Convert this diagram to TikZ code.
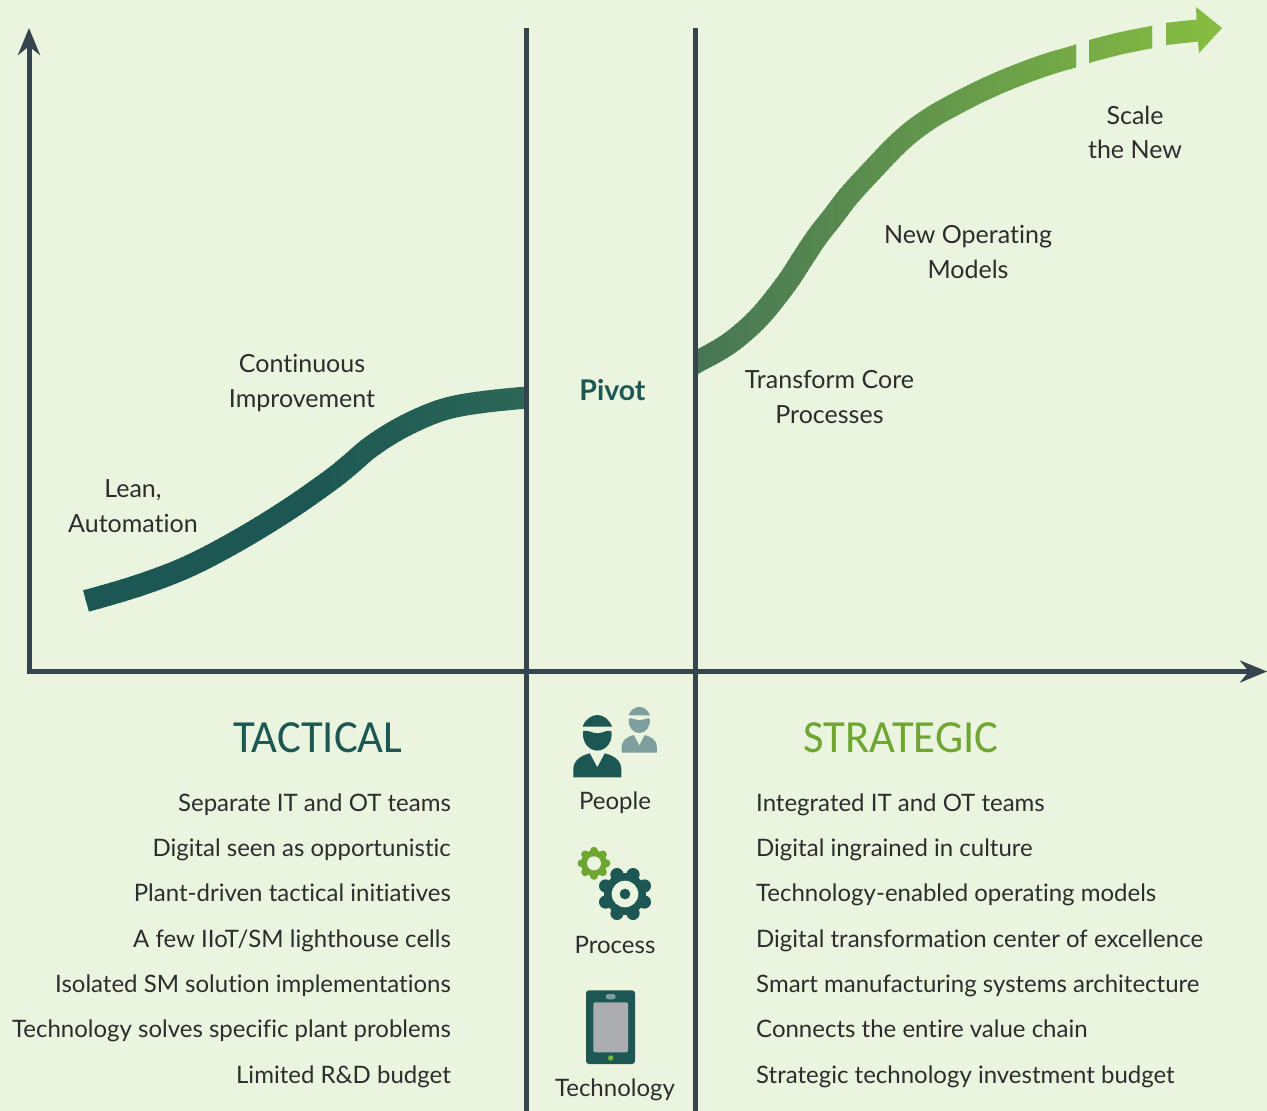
\documentclass[tikz,border=0pt]{standalone}
\usepackage{fontspec}
\setmainfont[Ligatures=NoCommon]{Lato}
\newfontfamily\titlefont{Carlito}
\usetikzlibrary{arrows.meta}
\definecolor{bgc}{HTML}{EAF4DF}
\definecolor{axisc}{HTML}{36444D}
\definecolor{tealc}{HTML}{1C5753}
\definecolor{tealend}{HTML}{2C6757}
\definecolor{greenstart}{HTML}{467655}
\definecolor{greenend}{HTML}{87BE40}
\definecolor{titlegreen}{HTML}{6FA632}
\definecolor{textc}{HTML}{2E2D2D}
\definecolor{fadec}{HTML}{7F9F9E}
\definecolor{screenc}{HTML}{ABADB0}
\definecolor{dotc}{HTML}{7AB53B}
\newcommand\leftcurve{plot[smooth,tension=.6] coordinates {(86,601) (137,586) (187,567) (237,541) (287,510.5) (330,480.5) (350,464.5) (370,447.5) (397,430) (427,415.5) (453,407) (487,401.5) (527,397.5)}}
\newcommand\rightcurve{plot[smooth,tension=.6] coordinates {(688,367) (695,363) (723,347.5) (743,332.5) (763,313) (787,282.5) (803,258) (817,237) (833,216.5) (850,194.5) (880,162) (897,144.5) (913,130.5) (930,118.5) (947,108.5) (980,91.5) (1013,77) (1047,64.5) (1076,56) (1089,51.5) (1120,43.5) (1152,37) (1166,34) (1198,30.5)}}
\tikzset{
  axisline/.style={draw=axisc,line width=5pt},
  axisarrow/.style={axisline,-{Stealth[length=27pt,width=22pt]}},
  item/.style={font=\fontsize{24}{30}\selectfont,text=textc,inner sep=0pt},
  leftitem/.style={item,anchor=base east},
  rightitem/.style={item,anchor=base west},
  iconlabel/.style={item,anchor=base},
  curvelabel/.style={font=\fontsize{25}{35}\selectfont,text=textc,align=center,inner sep=0pt},
  titletext/.style={font=\titlefont\fontsize{46}{50}\selectfont,inner sep=0pt,anchor=base,xscale=.97},
  ribbon/.style={line width=22pt},
  person/.pic={
    \fill[pic actions] (-14.7,-50.7) .. controls (-12,-58) and (-6,-62.3) .. (0,-62.3) .. controls (6,-62.3) and (12,-58) .. (14.7,-50.7) -- cycle;
    \fill[pic actions] (-14,-46.5) .. controls (-9,-47.5) and (-5,-44) .. (0,-44) .. controls (5,-44) and (9,-47.5) .. (14,-46.5) .. controls (16,-36) and (9,-26.7) .. (0,-26.7) .. controls (-9,-26.7) and (-16,-36) .. (-14,-46.5) -- cycle;
    \fill[pic actions] (-24,0) -- (-24,-8) .. controls (-24,-17) and (-16,-22) .. (-7.5,-24) -- (0,-10) -- (7.5,-24) .. controls (16,-22) and (24,-17) .. (24,-8) -- (24,0) -- cycle;
  }
}
\begin{document}
\begin{tikzpicture}[x=1pt,y=-1pt]
\useasboundingbox (0,0) rectangle (1267,1111);
\fill[bgc] (0,0) rectangle (1267,1111);

% left curve, coloured in vertical bands
\foreach \bx in {75,80,...,525} {
  \pgfmathsetmacro\bt{max(0,(\bx-305)/221*100)}
  \colorlet{bandc}{tealend!\bt!tealc}
  \begin{scope}
    \clip (\bx,380) rectangle (\bx+6,620);
    \draw[bandc,ribbon] \leftcurve;
  \end{scope}
}

% right curve, coloured in vertical bands, broken in three
\begin{scope}
\clip (695,0) rectangle (1076,400) (1089,0) rectangle (1152,400) (1166,0) rectangle (1223,400);
\foreach \bx in {695,699,...,1219} {
  \pgfmathsetmacro\bt{(\bx-695)/527*100}
  \colorlet{bandc}{greenend!\bt!greenstart}
  \begin{scope}
    \clip (\bx,0) rectangle (\bx+5,400);
    \draw[bandc,ribbon] \rightcurve;
    \fill[bandc] (1196,7) -- (1222,28) -- (1199,53) -- (1197,30) -- cycle;
  \end{scope}
}
\end{scope}

% axes
\coordinate (yorigin) at (29,673.5);
\coordinate (ytip) at (29,28);
\coordinate (xorigin) at (26.5,671.5);
\coordinate (xtip) at (1267,671.5);
\coordinate (pivotAtop) at (526.5,28);
\coordinate (pivotAbot) at (526.5,1111);
\coordinate (pivotBtop) at (695.5,28);
\coordinate (pivotBbot) at (695.5,1111);
\draw[axisline] (pivotAtop) -- (pivotAbot);
\draw[axisline] (pivotBtop) -- (pivotBbot);
\draw[axisarrow] (yorigin) -- (ytip);
\draw[axisarrow] (xorigin) -- (xtip);

% curve labels
\node[curvelabel] (lean) at (133,506) {Lean,\\Automation};
\node[curvelabel] (conti) at (302,383) {Continuous\\Improvement};
\node[curvelabel] (trans) at (829.5,397) {Transform Core\\Processes};
\node[curvelabel] (newop) at (968,252) {New Operating\\Models};
\node[curvelabel] (scale) at (1135,132) {Scale\\[-1pt]the New};
\node[inner sep=0pt,anchor=base,text=tealc,font=\fontsize{28.5}{30}\selectfont\bfseries] (pivot) at (612.5,400.5) {Pivot};

% titles
\node[titletext,text=tealc] (tactical) at (318,752) {TACTICAL};
\node[titletext,text=titlegreen] (strategic) at (901,752) {STRATEGIC};

% left list
\node[leftitem] (l1) at (451,811) {Separate IT and OT teams};
\node[leftitem] (l2) at (451,856) {Digital seen as opportunistic};
\node[leftitem] (l3) at (451,901) {Plant-driven tactical initiatives};
\node[leftitem] (l4) at (451,947) {A few IIoT/SM lighthouse cells};
\node[leftitem] (l5) at (451,992) {Isolated SM solution implementations};
\node[leftitem] (l6) at (451,1037) {Technology solves specific plant problems};
\node[leftitem] (l7) at (451,1083) {Limited R\&D budget};

% right list
\node[rightitem] (r1) at (756,811) {Integrated IT and OT teams};
\node[rightitem] (r2) at (756,856) {Digital ingrained in culture};
\node[rightitem] (r3) at (756,901) {Technology-enabled operating models};
\node[rightitem] (r4) at (756,947) {Digital transformation center of excellence};
\node[rightitem] (r5) at (756,992) {Smart manufacturing systems architecture};
\node[rightitem] (r6) at (756,1037) {Connects the entire value chain};
\node[rightitem] (r7) at (756,1083) {Strategic technology investment budget};

% people icon
\pic[fill=fadec,scale=.736] at (639.3,752.7) {person};
\pic[fill=tealc] at (597.3,777.3) {person};
\node[iconlabel] (people) at (615,809.5) {People};

% gears
\begin{scope}[shift={(594,863.3)}]
  \fill[titlegreen] (0,0) circle (13);
  \foreach \a in {0,45,...,315} \fill[titlegreen] (\a:12.5) circle (4);
  \fill[bgc] (0,0) circle (7);
\end{scope}
\begin{scope}[shift={(625,894)}]
  \fill[tealc] (0,0) circle (21);
  \foreach \a in {22.5,67.5,...,337.5} \fill[tealc] (\a:21) circle (6.6);
  \fill[bgc] (0,0) circle (13.3);
  \fill[tealc] (0,0) circle (5.3);
\end{scope}
\node[iconlabel] (process) at (615,953.5) {Process};

% phone
\fill[tealc,rounded corners=3pt] (586,990.3) rectangle (635,1064);
\fill[screenc,rounded corners=2pt] (593.3,1002.3) rectangle (628,1052.3);
\fill[fadec,rounded corners=2.6pt] (605.7,994) rectangle (615.7,999.3);
\fill[dotc] (610.7,1058) circle (2.7);
\node[iconlabel] (technology) at (615,1096.5) {Technology};
\end{tikzpicture}
\end{document}
